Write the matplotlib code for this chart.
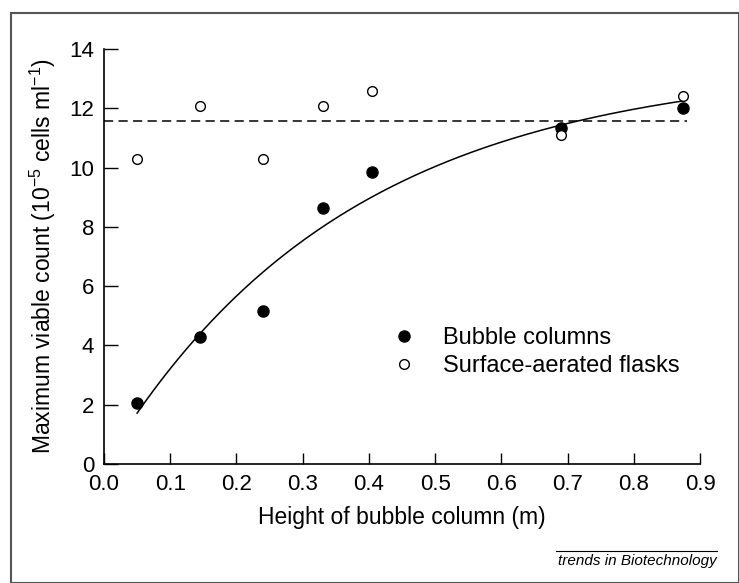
import numpy as np
import matplotlib
matplotlib.use("Agg")
import matplotlib.pyplot as plt
from matplotlib.lines import Line2D
from matplotlib.patches import Rectangle

plt.rcParams['font.family'] = ['Liberation Sans', 'DejaVu Sans']
plt.rcParams['mathtext.fontset'] = 'custom'
plt.rcParams['mathtext.rm'] = 'Liberation Sans'
plt.rcParams['mathtext.it'] = 'Liberation Sans:italic'

# Data
heights = [0.05, 0.145, 0.24, 0.33, 0.405, 0.69, 0.875]
bubble_columns = [2.05, 4.27, 5.15, 8.62, 9.85, 11.35, 12.0]
surface_flasks = [10.3, 12.07, 10.3, 12.07, 12.6, 11.1, 12.43]
flask_mean = 11.57
fit_A = 13.5      # fitted saturation curve y = A(1 - exp(-k x))
fit_k = 2.72
x_ticks = [0.0, 0.1, 0.2, 0.3, 0.4, 0.5, 0.6, 0.7, 0.8, 0.9]
y_ticks = [0, 2, 4, 6, 8, 10, 12, 14]

fig = plt.figure(figsize=(7.39, 5.83), dpi=100)
ax = fig.add_axes([104/739, 1-464/583, 596/739, 415/583])

# border of the figure panel
fig.add_artist(Rectangle((11/739, 0), 1 - 11/739, 1 - 13/583, transform=fig.transFigure,
                         fill=False, edgecolor='#555555', linewidth=1.5, clip_on=False))

xf = np.linspace(heights[0], heights[-1], 200)
ax.plot(xf, fit_A * (1 - np.exp(-fit_k * xf)), color='black', lw=1.1)
ax.plot([0, 0.88], [flask_mean, flask_mean], color='black', lw=1.1, dashes=(6, 3.5))

ax.plot(heights, bubble_columns, 'o', color='black', markersize=8, label='Bubble columns')
ax.plot(heights, surface_flasks, 'o', markerfacecolor='white', markeredgecolor='black',
        markeredgewidth=1.0, markersize=7, label='Surface-aerated flasks')

ax.set_xlim(0, 0.9)
ax.set_ylim(0, 14)
ax.set_xticks(x_ticks)
ax.set_xticklabels([f'{v:.1f}' for v in x_ticks])
ax.set_yticks(y_ticks)
ax.set_yticklabels([str(v) for v in y_ticks])
ax.tick_params(direction='in', width=1, labelsize=16)
ax.tick_params(axis='x', length=8, pad=7)
ax.tick_params(axis='y', length=10, pad=7)
for s in ['top', 'right']:
    ax.spines[s].set_visible(False)
for s in ['left', 'bottom']:
    ax.spines[s].set_linewidth(1.2)

ax.set_xlabel('Height of bubble column (m)', fontsize=16.5, labelpad=8)
ax.set_ylabel('Maximum viable count (10$^{-5}$ cells ml$^{-1}$)', fontsize=16.5, labelpad=8)

leg = ax.legend(loc='center left', bbox_to_anchor=(0.4836, 0.270), frameon=False,
                fontsize=17, handlelength=1.0, handletextpad=1.15, labelspacing=0.25,
                borderpad=0, borderaxespad=0)

fig.text(717/739, 1 - 561/583, 'trends in Biotechnology', ha='right', va='center',
         fontsize=11, style='italic')
fig.add_artist(Line2D([556/739, 717/739], [1 - 551/583, 1 - 551/583],
                      transform=fig.transFigure, color='black', lw=0.8))

fig.savefig('out.png', dpi=100)
